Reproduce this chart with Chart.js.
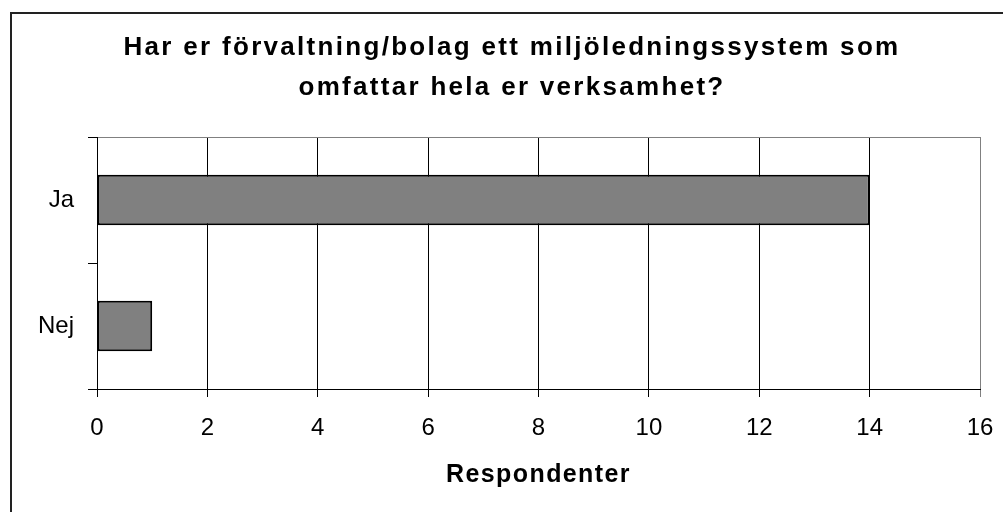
<!DOCTYPE html>
<html>
<head>
<meta charset="utf-8">
<script src="https://cdn.jsdelivr.net/npm/chart.js@4/dist/chart.umd.min.js"></script>
<style>
  html, body { margin: 0; padding: 0; background: #fff; }
  #wrap { width: 1003px; height: 512px; position: relative; }
</style>
</head>
<body>
<div id="wrap"><canvas id="c" width="1003" height="512"></canvas></div>
<script>
const titleLines = ["Har er förvaltning/bolag ett miljöledningssystem som", "omfattar hela er verksamhet?"];
const categories = ["Ja", "Nej"];
const respondents = [14, 1];
const xAxisTitle = "Respondenter";
const xMin = 0, xMax = 16, xStep = 2;

const FONT = "'Liberation Sans', Arial, sans-serif";

const frame = {
  id: 'frame',
  beforeDraw(chart) {
    if (!chart._patched) {
      chart._patched = true;
      const tb = chart.titleBlock;
      const origT = tb.draw.bind(tb);
      tb.draw = function () {
        const ctx = chart.ctx; const prev = ctx.letterSpacing;
        ctx.save();
        ctx.translate(22, 0);
        ctx.letterSpacing = '2.3px'; origT();
        ctx.restore();
        ctx.letterSpacing = prev;
      };
      const xs = chart.scales.x;
      const origX = xs.drawTitle.bind(xs);
      xs.drawTitle = function () {
        const ctx = chart.ctx; const prev = ctx.letterSpacing;
        ctx.letterSpacing = '1.4px'; origX(); ctx.letterSpacing = prev;
      };
    }
  },
  afterDraw(chart) {
    const ctx = chart.ctx;
    ctx.save();
    ctx.strokeStyle = '#222';
    ctx.lineWidth = 2;
    ctx.beginPath();
    ctx.moveTo(11, 520); ctx.lineTo(11, 13); ctx.lineTo(1010, 13);
    ctx.stroke();
    ctx.restore();
  }
};

new Chart(document.getElementById('c'), {
  type: 'bar',
  data: {
    labels: categories,
    datasets: [{
      data: respondents,
      backgroundColor: '#808080',
      borderColor: '#000',
      borderWidth: 2,
      borderSkipped: false,
      categoryPercentage: 1.0,
      barPercentage: 0.4
    }]
  },
  options: {
    indexAxis: 'y',
    responsive: false,
    animation: false,
    devicePixelRatio: 1,
    layout: { padding: { left: 0, right: 23, top: 0, bottom: 0 } },
    plugins: {
      legend: { display: false },
      tooltip: { enabled: false },
      title: {
        display: true,
        text: titleLines,
        color: '#000',
        font: { family: FONT, size: 26, weight: 'bold', lineHeight: 40 / 26 },
        padding: { top: 28, bottom: 29 }
      }
    },
    scales: {
      x: {
        min: xMin, max: xMax,
        afterFit(scale) { scale.height = 123; scale.paddingLeft = 0; scale.paddingRight = 0; },
        ticks: { stepSize: xStep, color: '#000', padding: 17, font: { family: FONT, size: 24 }, maxRotation: 0 },
        grid: {
          color: (c) => (c.tick && c.tick.value === xMax) ? '#808080' : '#000',
          tickColor: (c) => (c.tick && c.tick.value === xMax) ? '#808080' : '#000',
          lineWidth: 1,
          tickLength: 8,
          drawTicks: true
        },
        border: { color: '#000', width: 1 },
        title: {
          display: true, text: xAxisTitle, color: '#000',
          font: { family: FONT, size: 25, weight: 'bold' },
          padding: { top: 0, bottom: 22 }
        }
      },
      y: {
        afterFit(scale) { scale.width = 97; },
        ticks: { color: '#000', padding: 14, font: { family: FONT, size: 24 } },
        grid: {
          offset: true,
          color: (c) => c.index === 0 ? '#808080' : 'rgba(0,0,0,0)',
          tickColor: '#000',
          tickLength: 9,
          lineWidth: 1
        },
        border: { color: '#000', width: 1 }
      }
    }
  },
  plugins: [frame]
});
</script>
</body>
</html>
